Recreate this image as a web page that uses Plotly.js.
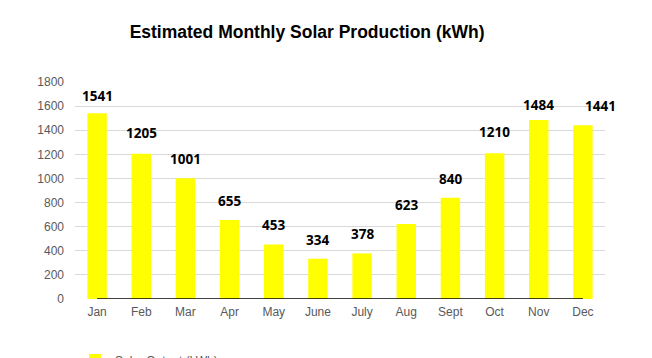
<!DOCTYPE html>
<html><head><meta charset="utf-8">
<script src="https://cdn.plot.ly/plotly-3.0.1.min.js"></script>
<style>html,body{margin:0;padding:0;background:#fff}#c{width:652px;height:358px}</style>
</head><body><div id="c"></div>
<script>
const months = ["Jan","Feb","Mar","Apr","May","June","July","Aug","Sept","Oct","Nov","Dec"];
const solarOutput = [1541,1205,1001,655,453,334,378,623,840,1210,1484,1441];
const seriesName = "Solar Output (kWh)";
const yTicks = [0,200,400,600,800,1000,1200,1400,1600,1800];

const labelShiftX = months.map((m,i)=> i===months.length-1 ? 18 : 0);
const labelShiftY = [6,10,8,8,8,8,8,8,8,10,4,8];

const annotations = months.map((m,i)=>({
  x: m, y: solarOutput[i], xref:'x', yref:'y', text: String(solarOutput[i]),
  showarrow:false, yanchor:'bottom', xanchor:'center',
  xshift: labelShiftX[i], yshift: labelShiftY[i],
  font:{family:'"Noto Sans", "Liberation Sans", sans-serif', size:13.5, color:'#000', weight:'bold'}
}));

const data = [{
  type:'bar', x: months, y: solarOutput, name: seriesName,
  marker:{color:'#ffff00', line:{width:0}}, hoverinfo:'none'
}];

const layout = {
  width:652, height:358,
  margin:{l:75, r:47, t:82, b:59, pad:0, autoexpand:false},
  paper_bgcolor:'#fff', plot_bgcolor:'#fff',
  title:{text:'<b>Estimated Monthly Solar Production (kWh)</b>', x:0.471, xanchor:'center', xref:'container', y:0.91, yanchor:'middle', yref:'container',
         font:{family:'"Liberation Sans", Arial, sans-serif', size:17.5, color:'#000'}},
  bargap:0.56,
  xaxis:{type:'category', range:[-0.5, months.length-0.5], automargin:false, showgrid:false, zeroline:false, showline:false, ticks:'',
         tickfont:{family:'"Liberation Sans", Arial, sans-serif', size:12, color:'#595959'}, ticklabelstandoff:4},
  yaxis:{range:[0,1800], automargin:false, tickvals:yTicks, showgrid:true, gridcolor:'#d9d9d9', gridwidth:1, zeroline:false, showline:false,
         tickfont:{family:'"Liberation Sans", Arial, sans-serif', size:12, color:'#595959'}, ticklabelstandoff:10, fixedrange:true},
  showlegend:true,
  legend:{orientation:'h', x:0.115, xref:'container', y:0.035, yref:'container', yanchor:'top', xanchor:'left',
          itemwidth:30, font:{family:'"Liberation Sans", Arial, sans-serif', size:12, color:'#595959'}},
  shapes:[{type:'line', xref:'x', yref:'y', x0:0, x1:months.length-1, y0:0, y1:0, line:{color:'#000', width:1.5}}],
  annotations: annotations
};
Plotly.newPlot('c', data, layout, {staticPlot:true, displayModeBar:false});
</script></body></html>
